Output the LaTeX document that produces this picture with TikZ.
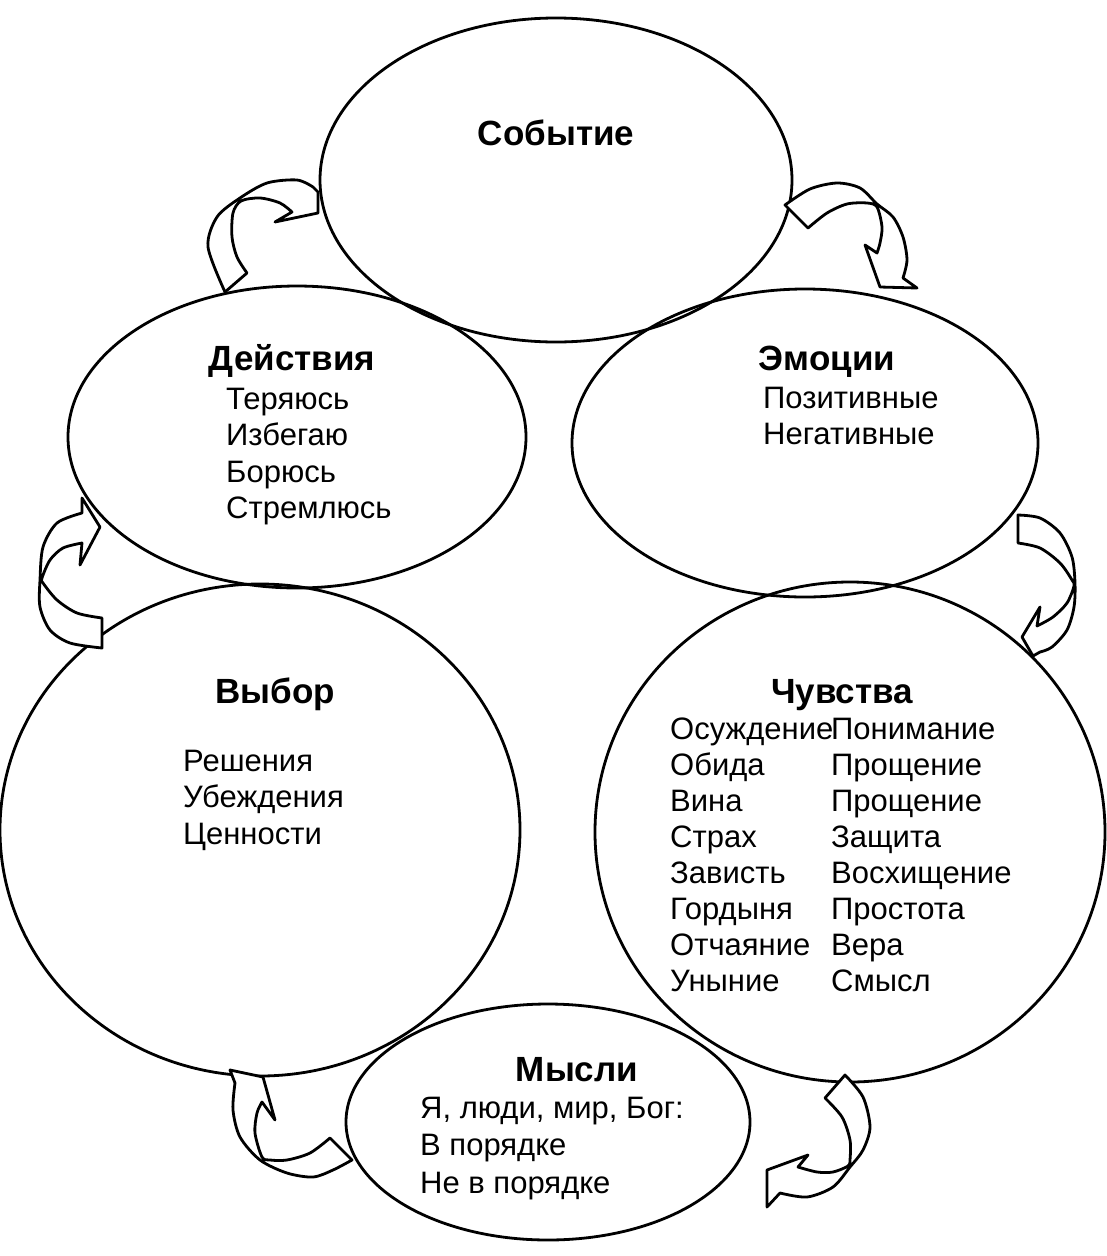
\documentclass[tikz,border=0pt]{standalone}
\usepackage{fontspec}
\setmainfont{Liberation Sans}
\usetikzlibrary{shapes.geometric}

\tikzset{
  oval/.style={ellipse, draw, line width=2.8pt, inner sep=0pt},
  head/.style={font=\bfseries\fontsize{35}{40}\selectfont, anchor=base, inner sep=0pt},
  item/.style={font=\fontsize{31}{36}\selectfont, anchor=base west, inner sep=0pt},
  band/.style={draw, fill=white, line width=2.8pt, line join=round}
}

\begin{document}
\begin{tikzpicture}[x=1pt, y=-1pt]
  \useasboundingbox (0,0) rectangle (1107,1256);

  % the six ovals
  \node[oval, minimum width=472pt, minimum height=324pt] (sob) at (556,180) {};
  \node[oval, minimum width=458pt, minimum height=302pt] (dej) at (297,437) {};
  \node[oval, minimum width=466pt, minimum height=308pt] (emo) at (805,443) {};
  \node[oval, minimum width=520pt, minimum height=492pt] (vyb) at (260,830) {};
  \node[oval, minimum width=510pt, minimum height=500pt] (chu) at (850,832) {};
  \node[oval, minimum width=404pt, minimum height=236pt] (mys) at (548,1122) {};

  % headings
  \node[head] (sobT) at (556,145) {Событие};
  \node[head] (dejT) at (292,370) {Действия};
  \node[head] (emoT) at (827,370) {Эмоции};
  \node[head] (vybT) at (275,703) {Выбор};
  \node[head] (chuT) at (842,703) {Чувства};
  \node[head] (mysT) at (577,1081) {Мысли};

  % lists
  \foreach \w [count=\i] in {Теряюсь,Избегаю,Борюсь,Стремлюсь}
    \node[item] (dej\i) at (226,{409+36.5*(\i-1)}) {\w};
  \foreach \w [count=\i] in {Позитивные,Негативные}
    \node[item] (emo\i) at (763,{408+36.5*(\i-1)}) {\w};
  \foreach \w [count=\i] in {Решения,Убеждения,Ценности}
    \node[item] (vyb\i) at (183,{771+36.5*(\i-1)}) {\w};
  \foreach \w [count=\i] in {Осуждение,Обида,Вина,Страх,Зависть,Гордыня,Отчаяние,Уныние}
    \node[item] (chuA\i) at (670,{739+36*(\i-1)}) {\w};
  \foreach \w [count=\i] in {Понимание,Прощение,Прощение,Защита,Восхищение,Простота,Вера,Смысл}
    \node[item] (chuB\i) at (831,{739+36*(\i-1)}) {\w};
  \foreach \w [count=\i] in {{Я, люди, мир, Бог:},В порядке,Не в порядке}
    \node[item] (mys\i) at (420,{1118+37.5*(\i-1)}) {\w};

  % curved arrows, clockwise
  \draw[band] (785,205) -- plot[smooth] coordinates {(785,205) (810,189) (837,183) (860,188) (877,204) (893,217) (903,237) (907,260) (903,278)}
    -- (917,288) -- (880,287) -- (865,245) -- (877,253)
    -- plot[smooth] coordinates {(877,253) (880,243) (882,227) (877,207) (867,203) (847,204) (827,213) (808,228)} -- cycle;
  \draw[band] (1018,515) -- plot[smooth] coordinates {(1018,515) (1040,518) (1060,533) (1072,557) (1075,583) (1074,607) (1067,630) (1052,647) (1040,652)}
    -- (1033,656) -- (1022,637) -- (1040,607) -- (1037,626)
    -- plot[smooth] coordinates {(1037,626) (1053,617) (1067,603) (1074,586) (1072,580) (1060,563) (1040,548) (1018,543)} -- cycle;
  \draw[band] (845,1075) -- plot[smooth] coordinates {(845,1075) (863,1097) (870,1127) (863,1150) (850,1167) (833,1187) (807,1197) (780,1193)}
    -- (767,1207) -- (767,1170) -- (808,1155) -- (798,1167)
    -- plot[smooth] coordinates {(798,1167) (817,1172) (833,1172) (848,1166) (850,1160) (850,1140) (842,1117) (825,1098)} -- cycle;
  \draw[band] (352,1160) -- plot[smooth] coordinates {(352,1160) (333,1170) (313,1177) (287,1173) (260,1160) (240,1137) (233,1110) (235,1083)}
    -- (230,1070) -- (263,1077) -- (275,1120) -- (262,1102)
    -- plot[smooth] coordinates {(262,1102) (257,1113) (255,1133) (262,1157) (270,1160) (287,1160) (310,1153) (330,1138)} -- cycle;
  \draw[band] (102,648) -- plot[smooth] coordinates {(102,648) (70,643) (50,630) (40,607) (40,580) (43,547) (57,523) (82,513)}
    -- (82,498) -- (100,527) -- (80,565) -- (82,543)
    -- plot[smooth] coordinates {(82,543) (63,548) (50,560) (42,578) (43,583) (57,600) (77,613) (102,618)} -- cycle;
  \draw[band] (225,292) -- plot[smooth] coordinates {(225,292) (208,247) (217,217) (240,198) (267,183) (297,180) (313,187)}
    -- (318,192) -- (318,213) -- (275,222) -- (292,212)
    -- plot[smooth] coordinates {(292,212) (280,203) (260,198) (241,201) (233,213) (232,237) (237,257) (247,273)} -- cycle;
\end{tikzpicture}
\end{document}
